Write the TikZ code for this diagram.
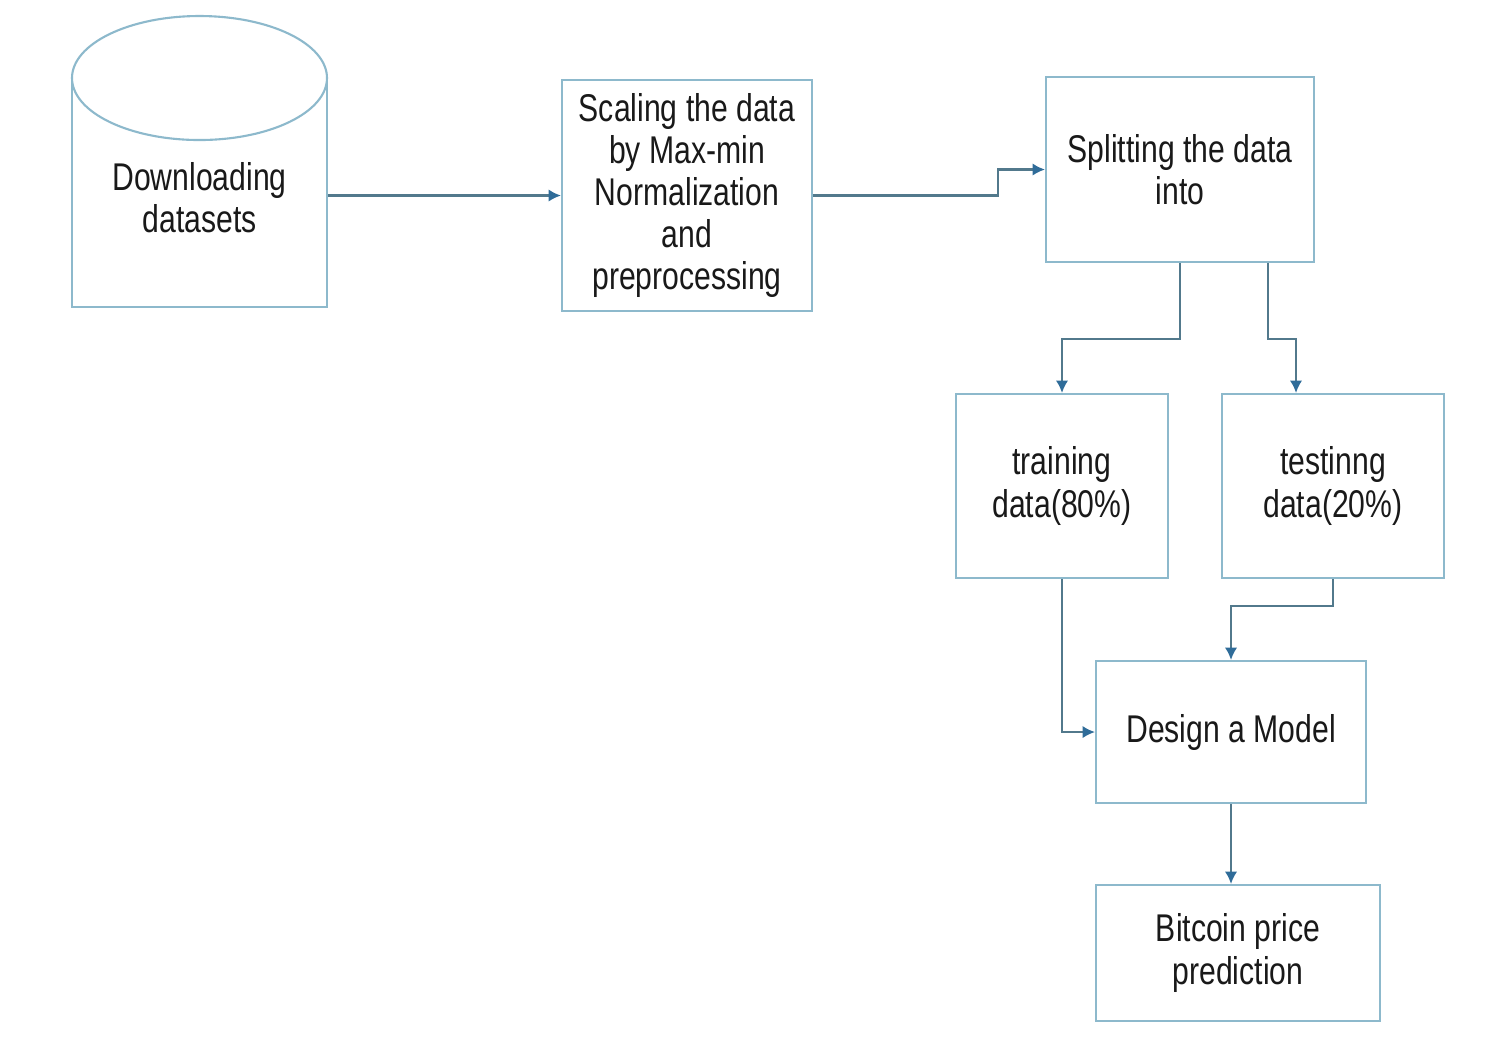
\documentclass[tikz,border=0pt]{standalone}
\usepackage{fontspec}
\setmainfont{Liberation Sans}[FakeStretch=0.78]
\usetikzlibrary{positioning, arrows.meta}
\definecolor{boxline}{HTML}{8DB9CC}
\definecolor{linkline}{HTML}{52798C}
\definecolor{tipblue}{HTML}{2F6C99}

\begin{document}
\begin{tikzpicture}[
        stepbox/.style={rectangle, draw=boxline, line width=0.6pt, align=center, font=\fontsize{11}{12}\selectfont, text=black!90, inner sep=0pt},
        arr/.style={-{Latex[length=3.5pt, width=3.5pt, color=tipblue]}, draw=linkline, line width=0.6pt},
    ]
        \useasboundingbox (0,0) rectangle (14.99,-10.55);

        % Dataset store (open-bottom drum)
        \draw[boxline, line width=0.6pt] (0.72,-0.78) -- (0.72,-3.07) -- (3.27,-3.07) -- (3.27,-0.78);
        \draw[boxline, line width=0.6pt, fill=white] (1.995,-0.78) ellipse (1.275 and 0.62);
        \node[stepbox, draw=none, minimum width=2.55cm] (dl) at (1.995,-1.975) {Downloading\\datasets};

        % Preprocessing
        \node[stepbox, minimum width=2.5cm, minimum height=2.31cm] (scale) at (6.87,-1.955) {Scaling the data\\by Max-min\\Normalization\\and\\preprocessing};

        % Split
        \node[stepbox, minimum width=2.68cm, minimum height=1.85cm] (split) at (11.80,-1.695) {Splitting the data\\into};

        % Train / test sets
        \node[stepbox, minimum width=2.12cm, minimum height=1.84cm] (train) at (10.62,-4.86) {training\\data(80\%)};
        \node[stepbox, minimum width=2.22cm, minimum height=1.84cm] (test) at (13.33,-4.86) {testinng\\data(20\%)};

        % Model and output
        \node[stepbox, minimum width=2.70cm, minimum height=1.42cm] (design) at (12.31,-7.32) {Design a Model};
        \node[stepbox, minimum width=2.84cm, minimum height=1.36cm] (predict) at (12.38,-9.53) {Bitcoin price\\prediction};

        % Arrows
        \draw[arr] (dl.east |- scale.west) -- (scale.west);
        \draw[arr] (scale.east) -- ++(1.85,0) |- (split.west);
        \draw[arr] (split.south) -- ++(0,-0.76) -| (train.north);
        \draw[arr] ([xshift=0.88cm]split.south) -- ++(0,-0.76) -| ([xshift=-0.37cm]test.north);
        \draw[arr] (train.south) |- (design.west);
        \draw[arr] (test.south) -- ++(0,-0.27) -| (design.north);
        \draw[arr] (design.south) -- (design.south |- predict.north);
    \end{tikzpicture}
\end{document}
